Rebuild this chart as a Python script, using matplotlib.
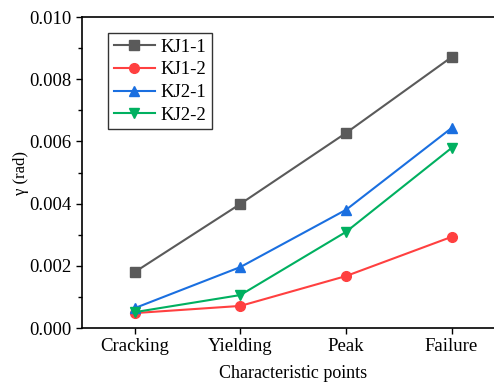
import numpy as np
import matplotlib
matplotlib.use("Agg")
import matplotlib.pyplot as plt
from matplotlib.ticker import MultipleLocator

# Data
categories = ["Cracking", "Yielding", "Peak", "Failure"]
kj1_1 = [0.00180, 0.00399, 0.00627, 0.00871]
kj1_2 = [0.00048, 0.00071, 0.00167, 0.00293]
kj2_1 = [0.00064, 0.00196, 0.00380, 0.00643]
kj2_2 = [0.00051, 0.00106, 0.00309, 0.00579]

plt.rcParams["font.family"] = ["Liberation Serif", "DejaVu Serif"]
plt.rcParams["font.size"] = 13.5

fig = plt.figure(figsize=(4.94, 3.83), dpi=100)
ax = fig.add_axes([0.166, 0.1436, 0.855, 0.812])

x = np.arange(1, len(categories) + 1)
series = [
    ("KJ1-1", kj1_1, "#5a5a5a", "s"),
    ("KJ1-2", kj1_2, "#ff4040", "o"),
    ("KJ2-1", kj2_1, "#1a6fe0", "^"),
    ("KJ2-2", kj2_2, "#00b060", "v"),
]
for name, vals, col, mk in series:
    ax.plot(x, vals, color=col, marker=mk, markersize=7, linewidth=1.5, label=name)

ax.set_xlim(0.5, 4.5)
ax.set_ylim(0, 0.010)
ax.set_xticks(x)
ax.set_xticklabels(categories)
ax.yaxis.set_major_locator(MultipleLocator(0.002))
ax.yaxis.set_minor_locator(MultipleLocator(0.001))
ax.yaxis.set_major_formatter(matplotlib.ticker.FormatStrFormatter("%.3f"))
ax.tick_params(direction="out", length=4, width=1, labelsize=13.5)
ax.tick_params(which="minor", direction="out", length=3, width=1)
for s in ax.spines.values():
    s.set_linewidth(1.2)

ax.set_xlabel("Characteristic points", fontsize=13, labelpad=7)
ax.set_ylabel("γ (rad)", fontsize=12)
ax.yaxis.set_label_coords(-0.125, 0.5)

leg = ax.legend(loc="upper left", bbox_to_anchor=(0.062, 0.949), borderaxespad=0,
                frameon=True, fancybox=False, edgecolor="black", fontsize=13.5,
                handlelength=2.2, borderpad=0.3, labelspacing=0.3,
                handletextpad=0.3)
leg.get_frame().set_linewidth(1.0)

fig.savefig("out.png", dpi=100)
